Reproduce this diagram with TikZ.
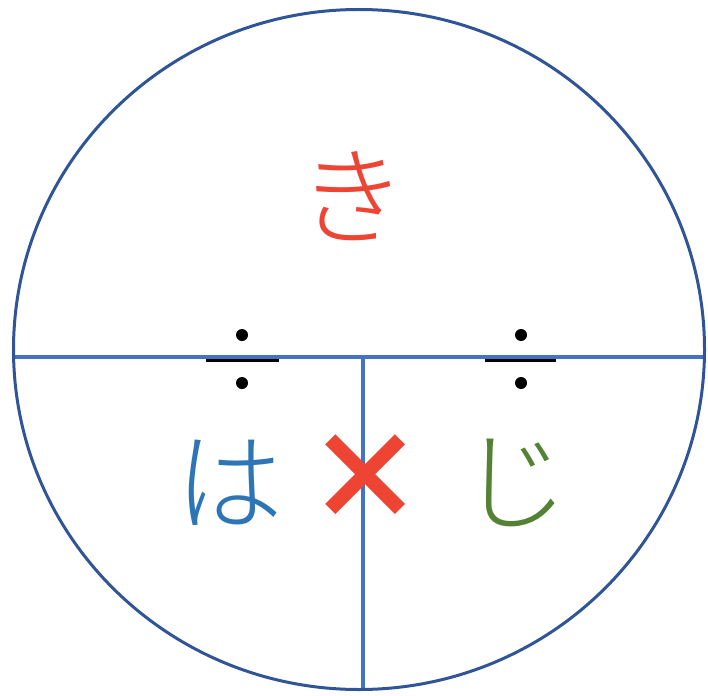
\documentclass[tikz,border=0pt]{standalone}
\usetikzlibrary{shapes.geometric}
\usepackage{fontspec}
\newfontfamily\jp{Noto Sans CJK JP Light}
\newfontfamily\jpb{Noto Sans CJK JP Black}
\definecolor{ring}{HTML}{2F5597}
\definecolor{rule}{HTML}{4472C4}
\definecolor{kired}{HTML}{EE4433}
\definecolor{hablue}{HTML}{2E75B6}
\definecolor{jigreen}{HTML}{548235}
\tikzset{
  kana/.style={inner sep=0pt, font=\jp\fontsize{108}{108}\selectfont},
  divbar/.style={line width=5.5pt, black},
  divdot/.style={circle, fill=black, inner sep=0pt, minimum size=12pt},
}
\begin{document}
\begin{tikzpicture}[x=1pt, y=-1pt]
\useasboundingbox (0,0) rectangle (708,695);
\coordinate (L) at (12.2,357);
\coordinate (R) at (705.8,357);
\coordinate (M) at (363,357);
\coordinate (B) at (363,691);
% division signs
\coordinate (b1l) at (206,359.5);
\coordinate (b1r) at (279,359.5);
\coordinate (b2l) at (485,359.5);
\coordinate (b2r) at (556,359.5);
\draw[divbar] (b1l) -- (b1r);
\draw[divbar] (b2l) -- (b2r);
\node[divdot] (d1) at (242,335) {};
\node[divdot] (d2) at (242,383) {};
\node[divdot] (d3) at (521,335) {};
\node[divdot] (d4) at (521,383) {};
\draw[rule, line width=3.5pt] (L) -- (R);
\draw[rule, line width=3.5pt] (M) -- (B);
\node[ellipse, draw=ring, line width=3pt, inner sep=0pt, minimum width=691pt, minimum height=680pt] (c) at (359,349.5) {};
% text
\node[kana, text=kired] (ki) at (352,196) {き};
\node[kana, text=hablue] (ha) at (229,483) {は};
\node[kana, text=jigreen] (ji) at (514,483) {じ};
\node[inner sep=0pt, text=kired, font=\jpb\fontsize{120}{120}\selectfont] (x) at (365,478) {×};
\end{tikzpicture}
\end{document}
